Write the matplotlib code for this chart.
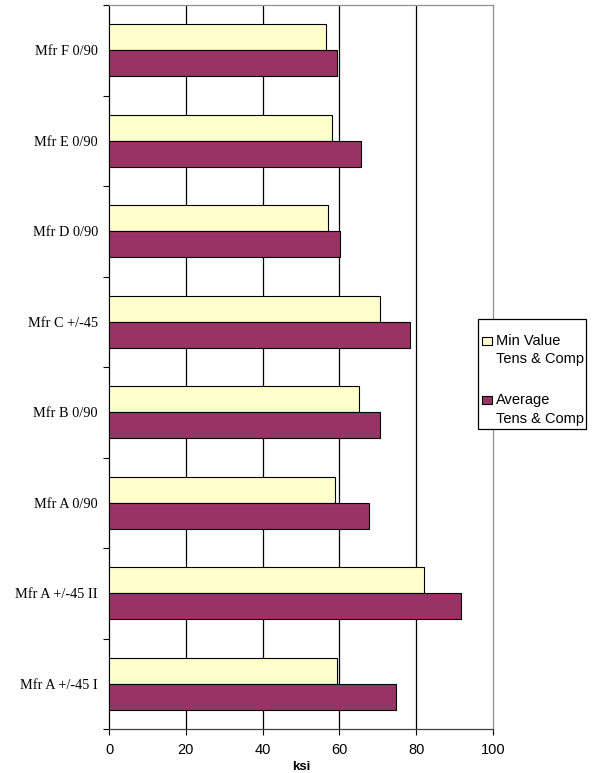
import numpy as np
import matplotlib.pyplot as plt
from matplotlib.ticker import FixedLocator
from matplotlib.patches import Rectangle

# bottom-to-top order
labels = ["Mfr A +/-45 I", "Mfr A +/-45 II", "Mfr A 0/90", "Mfr B 0/90",
          "Mfr C +/-45", "Mfr D 0/90", "Mfr E 0/90", "Mfr F 0/90"]
min_vals = [59.5, 82.0, 58.9, 65.0, 70.5, 57.0, 58.1, 56.4]
avg_vals = [74.7, 91.7, 67.6, 70.6, 78.3, 60.2, 65.5, 59.3]
series_names = [["Min Value", "Tens & Comp"], ["Average", "Tens & Comp"]]

yellow = "#FFFFCC"
purple = "#993366"

W, H = 593, 773
fig = plt.figure(figsize=(W / 100, H / 100), dpi=100)
ax = fig.add_axes([109 / W, 1 - 729 / H, 384 / W, 724 / H])

y = np.arange(len(labels))
h = 0.287
ax.barh(y + h / 2, min_vals, height=h, color=yellow, edgecolor="black", linewidth=0.8, zorder=3)
ax.barh(y - h / 2, avg_vals, height=h, color=purple, edgecolor="black", linewidth=0.8, zorder=3)

ax.set_xlim(0, 100)
ax.set_ylim(-0.5, len(labels) - 0.5)
ax.set_xticks([0, 20, 40, 60, 80, 100])
ax.set_xticklabels(["0", "20", "40", "60", "80", "100"], family="Liberation Sans", fontsize=10.5)
for gx in [20, 40, 60, 80]:
    ax.axvline(gx, color="black", linewidth=0.9, zorder=0)

ax.set_yticks(y)
ax.set_yticklabels(labels, family="Liberation Serif", fontsize=10.3)
ax.tick_params(axis="y", which="major", length=0, pad=8)
ax.yaxis.set_minor_locator(FixedLocator(np.arange(-0.5, len(labels), 1.0)))
ax.tick_params(axis="y", which="minor", length=4, width=0.8, direction="out")
ax.tick_params(axis="x", length=4, width=0.8, direction="out", pad=6)

ax.set_xlabel("ksi", family="Liberation Sans", fontsize=9.5, fontweight="bold", labelpad=3)

ax.spines["left"].set_color("black")
ax.spines["bottom"].set_color("#404040")
for side in ["top", "right"]:
    ax.spines[side].set_color("#909090")
for s in ax.spines.values():
    s.set_linewidth(0.9)

# legend box drawn in pixel units of the figure
def px(x, yy):
    return x / W, 1 - yy / H

box_x0, box_y0, box_x1, box_y1 = 478, 319, 586, 429
bx, by = px(box_x0, box_y1)
fig.add_artist(Rectangle((bx, by), (box_x1 - box_x0) / W, (box_y1 - box_y0) / H,
                         transform=fig.transFigure, facecolor="white",
                         edgecolor="black", linewidth=0.9, zorder=5))
for i, (color, lines) in enumerate(zip([yellow, purple], series_names)):
    top = 341 + i * 59
    mx, my = px(482, top + 4)
    fig.add_artist(Rectangle((mx, my), 10 / W, 8 / H, transform=fig.transFigure,
                             facecolor=color, edgecolor="black", linewidth=0.8, zorder=6))
    for j, line in enumerate(lines):
        tx, ty = px(495.5, top + j * 18.5)
        fig.text(tx, ty, line, family="Liberation Sans", fontsize=10.5,
                 ha="left", va="center", zorder=7)

fig.savefig("out.png", dpi=100)
